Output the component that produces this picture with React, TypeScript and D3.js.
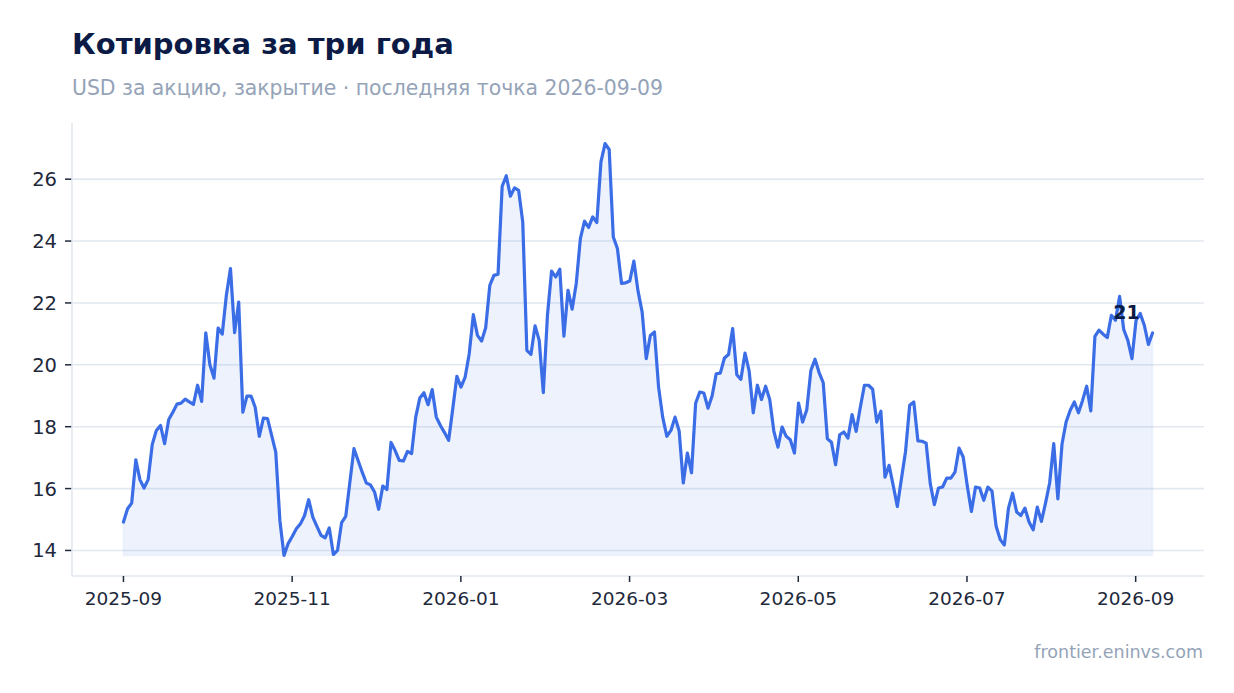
import { useMemo } from "react";
import * as d3 from "d3";

const WIDTH = 1234;
const HEIGHT = 693;
const MARGIN = { top: 123, right: 30, bottom: 117, left: 72 };

const TITLE = "Котировка за три года";
const SUBTITLE = "USD за акцию, закрытие · последняя точка 2026-09-09";
const SOURCE = "frontier.eninvs.com";

// the axis counts months from 2025-09; the last close sits ~a week into 2026-09
const FIRST_MONTH = { year: 2025, month: 8 };
const SPAN_MONTHS = 12.2;

// closing prices
const closes = [
  14.92, 15.35, 15.53, 16.93, 16.29, 16.02, 16.29, 17.43, 17.88, 18.04,
  17.45, 18.23, 18.47, 18.73, 18.76, 18.89, 18.8, 18.72, 19.34, 18.82,
  21.03, 20.0, 19.57, 21.19, 20.99, 22.25, 23.11, 21.04, 22.03, 18.47,
  18.99, 18.99, 18.63, 17.69, 18.28, 18.26, 17.72, 17.18, 14.97, 13.84,
  14.22, 14.45, 14.7, 14.86, 15.13, 15.64, 15.08, 14.78, 14.49, 14.41,
  14.73, 13.87, 14.0, 14.9, 15.1, 16.2, 17.29, 16.91, 16.53, 16.18,
  16.12, 15.89, 15.33, 16.08, 15.97, 17.49, 17.23, 16.91, 16.89, 17.2,
  17.13, 18.31, 18.93, 19.1, 18.71, 19.2, 18.31, 18.04, 17.81, 17.56,
  18.58, 19.63, 19.28, 19.6, 20.36, 21.62, 20.95, 20.77, 21.2, 22.57,
  22.89, 22.93, 25.77, 26.11, 25.45, 25.72, 25.64, 24.62, 20.47, 20.34,
  21.26, 20.79, 19.1, 21.6, 23.03, 22.84, 23.09, 20.93, 22.41, 21.8,
  22.63, 24.08, 24.64, 24.44, 24.78, 24.6, 26.56, 27.15, 26.96, 24.13,
  23.76, 22.63, 22.65, 22.71, 23.35, 22.39, 21.71, 20.2, 20.95, 21.06,
  19.28, 18.31, 17.69, 17.88, 18.31, 17.86, 16.18, 17.15, 16.51, 18.76,
  19.12, 19.09, 18.6, 18.99, 19.71, 19.73, 20.22, 20.33, 21.17, 19.68,
  19.53, 20.38, 19.8, 18.45, 19.34, 18.88, 19.31, 18.88, 17.86, 17.34,
  17.99, 17.69, 17.58, 17.15, 18.76, 18.15, 18.55, 19.82, 20.18, 19.75,
  19.42, 17.61, 17.5, 16.77, 17.74, 17.83, 17.63, 18.39, 17.85, 18.62,
  19.34, 19.34, 19.21, 18.15, 18.5, 16.37, 16.75, 16.1, 15.42, 16.32,
  17.21, 18.69, 18.8, 17.54, 17.53, 17.47, 16.16, 15.48, 16.02, 16.05,
  16.34, 16.34, 16.53, 17.31, 17.02, 16.08, 15.26, 16.05, 16.02, 15.62,
  16.05, 15.92, 14.78, 14.35, 14.18, 15.37, 15.85, 15.24, 15.13, 15.37,
  14.92, 14.67, 15.4, 14.94, 15.53, 16.18, 17.45, 15.67, 17.43, 18.15,
  18.53, 18.8, 18.45, 18.85, 19.31, 18.51, 20.92, 21.12, 20.99, 20.88,
  21.6, 21.44, 22.21, 21.14, 20.79, 20.2, 21.44, 21.66, 21.28, 20.66,
  21.03,
];

const yTicks = [14, 16, 18, 20, 22, 24, 26];
const xTicks = [0, 2, 4, 6, 8, 10, 12]; // months after 2025-09

const COLORS = {
  title: "#0c1b45",
  subtitle: "#94a3b8",
  tick: "#1e293b",
  grid: "#e2e8f0",
  line: "#3a6de6",
};

type Point = { m: number; value: number };

const monthLabel = (m: number) => {
  const total = FIRST_MONTH.month + m;
  const y = FIRST_MONTH.year + Math.floor(total / 12);
  const mm = (total % 12) + 1;
  return `${y}-${String(mm).padStart(2, "0")}`;
};

export default function App() {
  const boundsWidth = WIDTH - MARGIN.left - MARGIN.right;
  const boundsHeight = HEIGHT - MARGIN.top - MARGIN.bottom;

  // one close per session, sessions evenly spaced over the period
  const data: Point[] = useMemo(() => {
    const step = SPAN_MONTHS / (closes.length - 1);
    return closes.map((v, i) => ({ m: i * step, value: v }));
  }, []);

  const xScale = d3
    .scaleLinear()
    .domain([-SPAN_MONTHS * 0.05, SPAN_MONTHS * 1.05])
    .range([MARGIN.left, MARGIN.left + boundsWidth]);

  const [minV, maxV] = d3.extent(closes) as [number, number];
  const pad = (maxV - minV) * 0.05;
  const yScale = d3
    .scaleLinear()
    .domain([minV - pad, maxV + pad])
    .range([MARGIN.top + boundsHeight, MARGIN.top]);

  const linePath = d3
    .line<Point>()
    .x((d) => xScale(d.m))
    .y((d) => yScale(d.value))(data);

  // fill down to the lowest close, not to the axis
  const areaPath = d3
    .area<Point>()
    .x((d) => xScale(d.m))
    .y0(yScale(minV))
    .y1((d) => yScale(d.value))(data);

  const last = data[data.length - 1];
  const lastX = xScale(last.m);
  const lastY = yScale(last.value);
  const bottom = MARGIN.top + boundsHeight;
  const right = MARGIN.left + boundsWidth;

  return (
    <svg
      width={WIDTH}
      height={HEIGHT}
      style={{ position: "absolute", left: 0, top: 0, background: "#fff" }}
      fontFamily="DejaVu Sans"
    >
      <text x={72} y={54} fontSize={29} fontWeight="bold" fill={COLORS.title}>
        {TITLE}
      </text>
      <text x={72} y={95} fontSize={20.4} fill={COLORS.subtitle}>
        {SUBTITLE}
      </text>

      {/* grid + y axis */}
      {yTicks.map((t) => (
        <g key={t}>
          <line
            x1={MARGIN.left}
            x2={right}
            y1={yScale(t)}
            y2={yScale(t)}
            stroke={COLORS.grid}
            strokeWidth={1.6}
          />
          <line
            x1={MARGIN.left - 7}
            x2={MARGIN.left}
            y1={yScale(t)}
            y2={yScale(t)}
            stroke={COLORS.tick}
            strokeWidth={1.5}
          />
          <text
            x={MARGIN.left - 15}
            y={yScale(t)}
            dy="0.36em"
            textAnchor="end"
            fontSize={19.5}
            fill={COLORS.tick}
          >
            {t}
          </text>
        </g>
      ))}

      <path
        d={areaPath ?? ""}
        fill={COLORS.line}
        fillOpacity={0.09}
        stroke={COLORS.line}
        strokeOpacity={0.05}
        strokeWidth={2}
      />

      <line x1={MARGIN.left} x2={MARGIN.left} y1={MARGIN.top} y2={bottom} stroke={COLORS.grid} strokeWidth={1.6} />
      <line x1={MARGIN.left} x2={right} y1={bottom} y2={bottom} stroke={COLORS.grid} strokeWidth={1.6} />

      {xTicks.map((m) => (
        <g key={m}>
          <line
            x1={xScale(m)}
            x2={xScale(m)}
            y1={bottom}
            y2={bottom + 6}
            stroke={COLORS.tick}
            strokeWidth={1.5}
          />
          <text x={xScale(m)} y={605} textAnchor="middle" fontSize={18.5} fill={COLORS.tick}>
            {monthLabel(m)}
          </text>
        </g>
      ))}

      <path
        d={linePath ?? ""}
        fill="none"
        stroke={COLORS.line}
        strokeWidth={3.2}
        strokeLinejoin="round"
        strokeLinecap="round"
      />

      <text
        x={lastX - 26}
        y={lastY - 14}
        textAnchor="middle"
        fontSize={19}
        fontWeight="bold"
        fill={COLORS.title}
      >
        {Math.round(last.value)}
      </text>

      <text x={1203} y={658} textAnchor="end" fontSize={17.5} fill={COLORS.subtitle}>
        {SOURCE}
      </text>
    </svg>
  );
}
